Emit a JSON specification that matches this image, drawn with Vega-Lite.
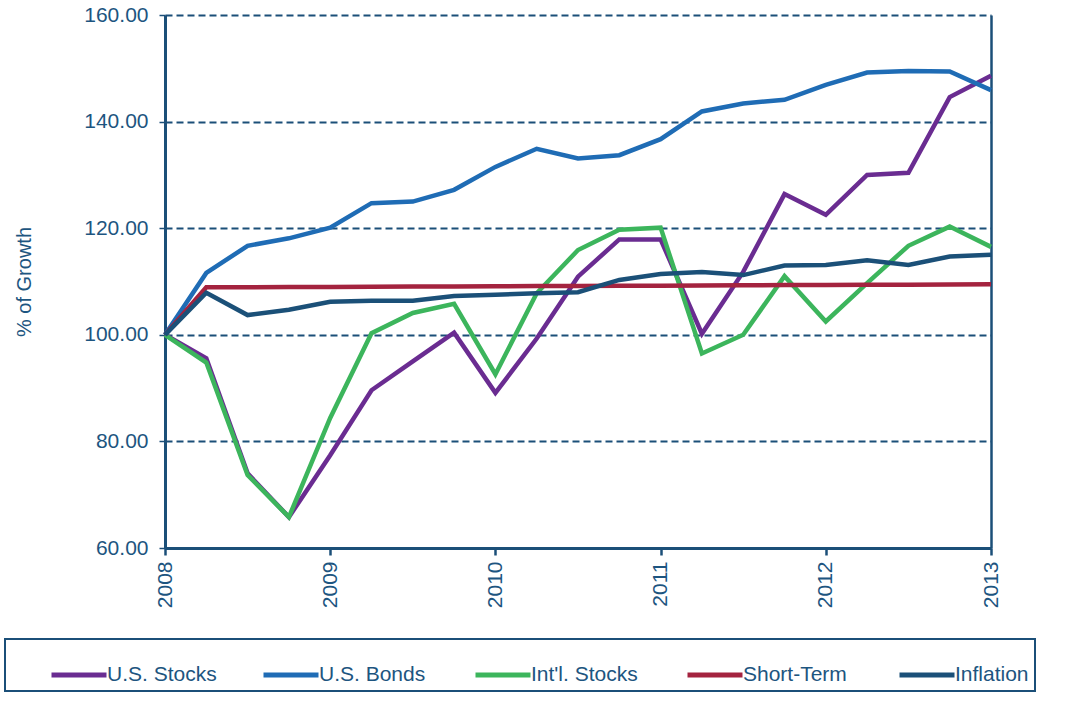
{
  "$schema": "https://vega.github.io/schema/vega-lite/v6.json",
  "autosize": {"type": "none"},
  "padding": {"left": 165, "top": 15, "right": 74, "bottom": 155},
  "width": 826,
  "height": 533,
  "config": {
    "view": {"stroke": null},
    "font": "Liberation Sans",
    "axis": {"labelFont": "Liberation Sans", "titleFont": "Liberation Sans"},
    "legend": {"labelFont": "Liberation Sans", "strokeWidth": 2}
  },
  "datasets": {
    "growth": [
      {"t": 2008, "s": "U.S. Stocks", "v": 100}, {"t": 2008.25, "s": "U.S. Stocks", "v": 95.6}, {"t": 2008.5, "s": "U.S. Stocks", "v": 74.0}, {"t": 2008.75, "s": "U.S. Stocks", "v": 65.8}, {"t": 2009, "s": "U.S. Stocks", "v": 77.4}, {"t": 2009.25, "s": "U.S. Stocks", "v": 89.6}, {"t": 2009.5, "s": "U.S. Stocks", "v": 95.0}, {"t": 2009.75, "s": "U.S. Stocks", "v": 100.4}, {"t": 2010, "s": "U.S. Stocks", "v": 89.1}, {"t": 2010.25, "s": "U.S. Stocks", "v": 99.3}, {"t": 2010.5, "s": "U.S. Stocks", "v": 110.9}, {"t": 2010.75, "s": "U.S. Stocks", "v": 117.9}, {"t": 2011, "s": "U.S. Stocks", "v": 117.9}, {"t": 2011.25, "s": "U.S. Stocks", "v": 100.2}, {"t": 2011.5, "s": "U.S. Stocks", "v": 111.8}, {"t": 2011.75, "s": "U.S. Stocks", "v": 126.4}, {"t": 2012, "s": "U.S. Stocks", "v": 122.5}, {"t": 2012.25, "s": "U.S. Stocks", "v": 130.0}, {"t": 2012.5, "s": "U.S. Stocks", "v": 130.4}, {"t": 2012.75, "s": "U.S. Stocks", "v": 144.6}, {"t": 2013, "s": "U.S. Stocks", "v": 148.6},
      {"t": 2008, "s": "U.S. Bonds", "v": 100}, {"t": 2008.25, "s": "U.S. Bonds", "v": 111.6}, {"t": 2008.5, "s": "U.S. Bonds", "v": 116.7}, {"t": 2008.75, "s": "U.S. Bonds", "v": 118.1}, {"t": 2009, "s": "U.S. Bonds", "v": 120.1}, {"t": 2009.25, "s": "U.S. Bonds", "v": 124.7}, {"t": 2009.5, "s": "U.S. Bonds", "v": 125.0}, {"t": 2009.75, "s": "U.S. Bonds", "v": 127.2}, {"t": 2010, "s": "U.S. Bonds", "v": 131.5}, {"t": 2010.25, "s": "U.S. Bonds", "v": 134.9}, {"t": 2010.5, "s": "U.S. Bonds", "v": 133.1}, {"t": 2010.75, "s": "U.S. Bonds", "v": 133.7}, {"t": 2011, "s": "U.S. Bonds", "v": 136.7}, {"t": 2011.25, "s": "U.S. Bonds", "v": 141.9}, {"t": 2011.5, "s": "U.S. Bonds", "v": 143.4}, {"t": 2011.75, "s": "U.S. Bonds", "v": 144.1}, {"t": 2012, "s": "U.S. Bonds", "v": 146.9}, {"t": 2012.25, "s": "U.S. Bonds", "v": 149.2}, {"t": 2012.5, "s": "U.S. Bonds", "v": 149.5}, {"t": 2012.75, "s": "U.S. Bonds", "v": 149.4}, {"t": 2013, "s": "U.S. Bonds", "v": 145.9},
      {"t": 2008, "s": "Int'l. Stocks", "v": 100}, {"t": 2008.25, "s": "Int'l. Stocks", "v": 94.8}, {"t": 2008.5, "s": "Int'l. Stocks", "v": 73.7}, {"t": 2008.75, "s": "Int'l. Stocks", "v": 65.8}, {"t": 2009, "s": "Int'l. Stocks", "v": 84.4}, {"t": 2009.25, "s": "Int'l. Stocks", "v": 100.3}, {"t": 2009.5, "s": "Int'l. Stocks", "v": 104.1}, {"t": 2009.75, "s": "Int'l. Stocks", "v": 105.8}, {"t": 2010, "s": "Int'l. Stocks", "v": 92.6}, {"t": 2010.25, "s": "Int'l. Stocks", "v": 107.8}, {"t": 2010.5, "s": "Int'l. Stocks", "v": 115.9}, {"t": 2010.75, "s": "Int'l. Stocks", "v": 119.7}, {"t": 2011, "s": "Int'l. Stocks", "v": 120.1}, {"t": 2011.25, "s": "Int'l. Stocks", "v": 96.5}, {"t": 2011.5, "s": "Int'l. Stocks", "v": 100.0}, {"t": 2011.75, "s": "Int'l. Stocks", "v": 111.0}, {"t": 2012, "s": "Int'l. Stocks", "v": 102.5}, {"t": 2012.25, "s": "Int'l. Stocks", "v": 109.7}, {"t": 2012.5, "s": "Int'l. Stocks", "v": 116.7}, {"t": 2012.75, "s": "Int'l. Stocks", "v": 120.3}, {"t": 2013, "s": "Int'l. Stocks", "v": 116.5},
      {"t": 2008, "s": "Short-Term", "v": 100}, {"t": 2008.25, "s": "Short-Term", "v": 108.9}, {"t": 2008.5, "s": "Short-Term", "v": 108.93}, {"t": 2008.75, "s": "Short-Term", "v": 108.95}, {"t": 2009, "s": "Short-Term", "v": 108.99}, {"t": 2009.25, "s": "Short-Term", "v": 109.02}, {"t": 2009.5, "s": "Short-Term", "v": 109.04}, {"t": 2009.75, "s": "Short-Term", "v": 109.08}, {"t": 2010, "s": "Short-Term", "v": 109.1}, {"t": 2010.25, "s": "Short-Term", "v": 109.14}, {"t": 2010.5, "s": "Short-Term", "v": 109.17}, {"t": 2010.75, "s": "Short-Term", "v": 109.2}, {"t": 2011, "s": "Short-Term", "v": 109.22}, {"t": 2011.25, "s": "Short-Term", "v": 109.26}, {"t": 2011.5, "s": "Short-Term", "v": 109.28}, {"t": 2011.75, "s": "Short-Term", "v": 109.32}, {"t": 2012, "s": "Short-Term", "v": 109.35}, {"t": 2012.25, "s": "Short-Term", "v": 109.37}, {"t": 2012.5, "s": "Short-Term", "v": 109.41}, {"t": 2012.75, "s": "Short-Term", "v": 109.44}, {"t": 2013, "s": "Short-Term", "v": 109.47},
      {"t": 2008, "s": "Inflation", "v": 100}, {"t": 2008.25, "s": "Inflation", "v": 107.9}, {"t": 2008.5, "s": "Inflation", "v": 103.7}, {"t": 2008.75, "s": "Inflation", "v": 104.7}, {"t": 2009, "s": "Inflation", "v": 106.2}, {"t": 2009.25, "s": "Inflation", "v": 106.4}, {"t": 2009.5, "s": "Inflation", "v": 106.4}, {"t": 2009.75, "s": "Inflation", "v": 107.3}, {"t": 2010, "s": "Inflation", "v": 107.5}, {"t": 2010.25, "s": "Inflation", "v": 107.8}, {"t": 2010.5, "s": "Inflation", "v": 108.0}, {"t": 2010.75, "s": "Inflation", "v": 110.3}, {"t": 2011, "s": "Inflation", "v": 111.4}, {"t": 2011.25, "s": "Inflation", "v": 111.8}, {"t": 2011.5, "s": "Inflation", "v": 111.2}, {"t": 2011.75, "s": "Inflation", "v": 113.0}, {"t": 2012, "s": "Inflation", "v": 113.1}, {"t": 2012.25, "s": "Inflation", "v": 114.0}, {"t": 2012.5, "s": "Inflation", "v": 113.1}, {"t": 2012.75, "s": "Inflation", "v": 114.7}, {"t": 2013, "s": "Inflation", "v": 115.0}
    ]
  },
  "data": {"name": "growth"},
  "resolve": {"axis": {"y": "independent"}},
  "layer": [
    {
      "mark": {"type": "line", "strokeWidth": 4.5},
      "encoding": {
        "x": {
          "field": "t", "type": "quantitative",
          "scale": {"domain": [2008, 2013], "nice": false, "zero": false},
          "axis": {
            "title": null, "grid": false,
            "values": [2008, 2008.25, 2008.5, 2008.75, 2009, 2009.25, 2009.5, 2009.75, 2010, 2010.25, 2010.5, 2010.75, 2011, 2011.25, 2011.5, 2011.75, 2012, 2012.25, 2012.5, 2012.75, 2013],
            "format": "d",
            "labelExpr": "datum.value % 1 == 0 ? datum.label : ''",
            "labelAngle": 270, "labelAlign": "right", "labelBaseline": "middle",
            "labelFontSize": 21, "labelColor": "#1d5580", "labelPadding": 6,
            "labelOverlap": false, "labelFlush": false, "labelBound": false,
            "domainColor": "#1b4f78", "domainWidth": 3,
            "tickColor": "#1b4f78", "tickWidth": 2.5, "tickSize": 7
          }
        },
        "y": {
          "field": "v", "type": "quantitative",
          "scale": {"domain": [60, 160], "nice": false, "zero": false},
          "axis": {
            "title": "% of Growth", "titleFontSize": 20, "titleFontWeight": "normal", "titleColor": "#1d5580", "titlePadding": 49,
            "values": [60, 80, 100, 120, 140, 160], "format": ".2f",
            "labelFontSize": 21, "labelColor": "#1d5580", "labelPadding": 11,
            "grid": true, "gridColor": "#1b4f78", "gridDash": [7, 4], "gridWidth": 2,
            "domainColor": "#1b4f78", "domainWidth": 3,
            "tickColor": "#1b4f78", "tickWidth": 1.5, "tickSize": 6
          }
        },
        "color": {
          "field": "s", "type": "nominal",
          "scale": {
            "domain": ["U.S. Stocks", "U.S. Bonds", "Int'l. Stocks", "Short-Term", "Inflation"],
            "range": ["#6a2c91", "#1f6cb5", "#3cb55c", "#a4233f", "#1b5078"]
          },
          "legend": {
            "orient": "none", "legendX": -160, "legendY": 624,
            "direction": "horizontal", "columns": 5, "title": null,
            "symbolType": "stroke", "symbolSize": 3025, "symbolStrokeWidth": 5,
            "labelFontSize": 21, "labelColor": "#1d5580", "labelOffset": -2,
            "columnPadding": 6, "gridAlign": "all",
            "strokeColor": "#1b4f78", "padding": 6, "symbolOffset": 38
          }
        }
      }
    },
    {
      "mark": {"type": "point", "opacity": 0},
      "encoding": {
        "y": {
          "field": "v", "type": "quantitative",
          "axis": {"orient": "right", "title": null, "labels": false, "ticks": false, "grid": false, "domainColor": "#1b4f78", "domainWidth": 2.5}
        }
      }
    }
  ]
}
